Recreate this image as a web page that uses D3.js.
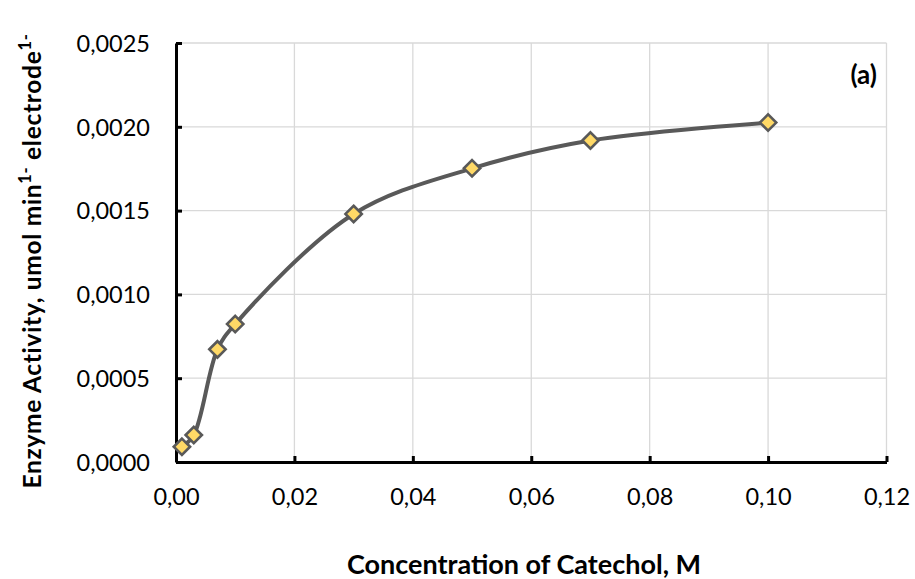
<!DOCTYPE html>
<html><head><meta charset="utf-8">
<script src="https://d3js.org/d3.v7.min.js"></script>
<style>body{margin:0;background:#fff;} svg{display:block;}</style>
</head><body>
<script>
const concentration = [0.001, 0.003, 0.007, 0.01, 0.03, 0.05, 0.07, 0.10];
const activity = [0.000091, 0.000161, 0.000672, 0.000823, 0.00148, 0.001752, 0.001918, 0.002025];
const xTicks = [0, 0.02, 0.04, 0.06, 0.08, 0.10, 0.12];
const yTicks = [0, 0.0005, 0.0010, 0.0015, 0.0020, 0.0025];
const xTitle = "Concentration of Catechol, M";
const panelLabel = "(a)";

const W = 915, H = 579;
const m = {left: 176, right: 915 - 886.5, top: 43, bottom: 579 - 462};
const svg = d3.select("body").append("svg").attr("width", W).attr("height", H);
const font = "Lato, 'Open Sans', sans-serif";

const x = d3.scaleLinear().domain([0, 0.12]).range([m.left, W - m.right]);
const y = d3.scaleLinear().domain([0, 0.0025]).range([H - m.bottom, m.top]);
const fmt = (d, n) => d.toFixed(n).replace(".", ",");

// gridlines
const g = svg.append("g");
g.selectAll("line.gx").data(xTicks.slice(1)).join("line")
  .attr("x1", d => x(d)).attr("x2", d => x(d)).attr("y1", y(0)).attr("y2", y(0.0025))
  .attr("stroke", "#d9d9d9").attr("stroke-width", 1.3);
g.selectAll("line.gy").data(yTicks.slice(1)).join("line")
  .attr("x1", x(0)).attr("x2", x(0.12)).attr("y1", d => y(d)).attr("y2", d => y(d))
  .attr("stroke", "#d9d9d9").attr("stroke-width", 1.3);

// axes
const xAxis = d3.axisBottom(x).tickValues(xTicks).tickSizeInner(-6).tickSizeOuter(0).tickFormat(d => fmt(d, 2)).tickPadding(26);
const yAxis = d3.axisLeft(y).tickValues(yTicks).tickSizeInner(-6).tickSizeOuter(0).tickFormat(d => fmt(d, 4)).tickPadding(26);
const gx = svg.append("g").attr("transform", `translate(0,${y(0)})`).call(xAxis);
const gy = svg.append("g").attr("transform", `translate(${x(0)},0)`).call(yAxis);
[gx, gy].forEach(a => {
  a.select(".domain").attr("stroke", "#000").attr("stroke-width", 3);
  a.selectAll(".tick line").attr("stroke", "#000").attr("stroke-width", 3);
  a.selectAll(".tick text").attr("font-family", font).attr("font-size", 23.5).attr("fill", "#000");
});
gy.selectAll(".tick text").attr("dy", "0.35em");

// line
const pts = concentration.map((c, i) => [x(c), y(activity[i])]);
svg.append("path").attr("d", d3.line().curve(d3.curveCatmullRom.alpha(0.5))(pts))
  .attr("fill", "none").attr("stroke", "#595959").attr("stroke-width", 4);

// markers
svg.selectAll("path.mk").data(pts).join("path")
  .attr("d", d3.symbol().type(d3.symbolDiamond2).size(170))
  .attr("transform", d => `translate(${d[0]},${d[1]})`)
  .attr("fill", "#ffd966").attr("stroke", "#595959").attr("stroke-width", 2.6);

// titles
svg.append("text").attr("x", 524).attr("y", 574).attr("text-anchor", "middle")
  .attr("font-family", font).attr("font-weight", "bold").attr("font-size", 27).text(xTitle);

const yt = svg.append("text").attr("transform", `translate(41,${261}) rotate(-90)`).attr("text-anchor", "middle")
  .attr("font-family", font).attr("font-weight", "bold").attr("font-size", 24.5).attr("letter-spacing", 0.7);
yt.append("tspan").text("Enzyme Activity,  umol min");
yt.append("tspan").attr("dy", -10).attr("font-size", 16.5).text("1-");
yt.append("tspan").attr("dy", 10).text(" electrode");
yt.append("tspan").attr("dy", -10).attr("font-size", 16.5).text("1-");

svg.append("text").attr("x", 877).attr("y", 84).attr("text-anchor", "end")
  .attr("font-family", font).attr("font-weight", "bold").attr("font-size", 26).text(panelLabel);
</script>
</body></html>
